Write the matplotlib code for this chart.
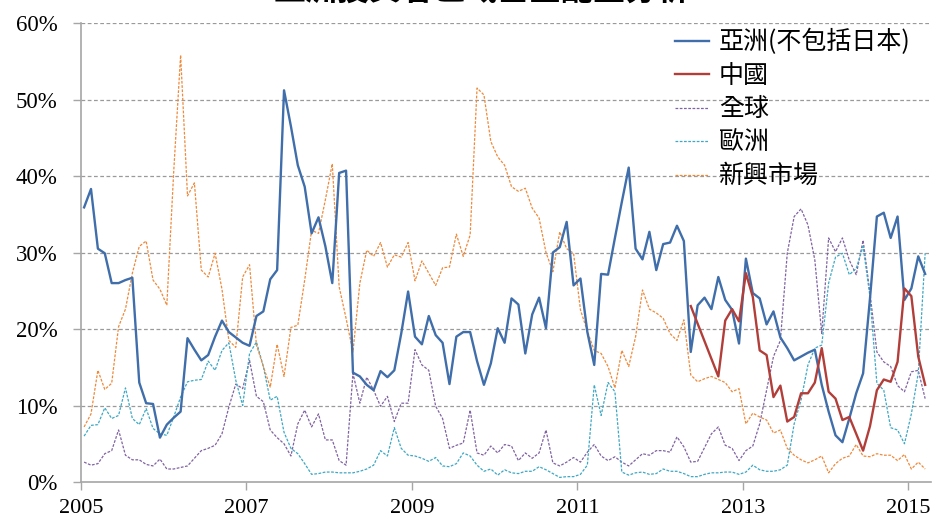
import numpy as np
import matplotlib
matplotlib.use("Agg")
import matplotlib.pyplot as plt

# ── Data (monthly, Jan 2005 – Mar 2015, % share) ─────────────────────────────
asia = [35.9, 38.3, 30.5, 29.9, 26.0, 26.0, 26.4, 26.7, 13.0, 10.3,
        10.2, 5.8, 7.5, 8.4, 9.2, 18.8, 17.3, 15.9, 16.6, 19.0,
        21.1, 19.6, 18.9, 18.2, 17.8, 21.7, 22.3, 26.5, 27.7, 51.2,
        46.5, 41.4, 38.6, 32.5, 34.6, 30.8, 26.0, 40.4, 40.7, 14.3,
        13.8, 12.7, 12.0, 14.5, 13.7, 14.6, 19.4, 24.9, 19.0, 18.0,
        21.7, 19.2, 18.2, 12.8, 19.0, 19.6, 19.6, 15.8, 12.7, 15.5,
        20.1, 18.2, 24.0, 23.2, 16.8, 21.9, 24.1, 20.1, 30.0, 30.7,
        34.0, 25.7, 26.6, 19.6, 15.3, 27.2, 27.1, 31.9, 36.6, 41.1,
        30.5, 29.1, 32.7, 27.7, 31.1, 31.3, 33.5, 31.5, 17.0, 23.1,
        24.1, 22.6, 26.8, 23.8, 22.5, 18.1, 29.2, 24.7, 24.0, 20.6,
        22.3, 18.9, 17.5, 15.9, 16.4, 16.9, 17.3, 12.7, 9.2, 6.1,
        5.2, 8.3, 11.6, 14.2, 24.0, 34.7, 35.2, 31.9, 34.7, 23.8,
        25.3, 29.5, 27.2]

# China only reported from mid-2012 (a few months missing at the start)
china = [None] * 88 + [
        23.0, None, None, None, 13.8, 21.1, 22.6, 21.0, 27.3, 24.2,
        17.2, 16.6, 11.1, 12.6, 7.9, 8.5, 11.6, 11.6, 13.0, 17.5,
        11.8, 10.9, 8.1, 8.5, 6.3, 4.1, 7.3, 12.0, 13.4, 13.1,
        15.7, 25.3, 24.3, 16.4, 12.7]

world = [2.6, 2.2, 2.4, 3.7, 4.1, 6.8, 3.5, 2.9, 2.9, 2.3,
         2.1, 3.0, 1.7, 1.7, 1.9, 2.1, 3.1, 4.1, 4.4, 4.8,
         6.3, 9.8, 12.8, 12.2, 15.9, 11.2, 10.5, 6.8, 5.8, 5.0,
         3.4, 7.6, 9.4, 7.2, 8.9, 5.5, 5.5, 2.8, 2.2, 14.2,
         10.3, 13.7, 12.0, 9.9, 11.2, 7.9, 10.3, 10.3, 17.3, 15.3,
         14.6, 9.9, 8.3, 4.4, 4.8, 5.1, 9.4, 3.8, 3.5, 4.7,
         3.8, 4.9, 4.7, 2.8, 3.8, 3.1, 3.8, 6.8, 2.5, 2.1,
         2.6, 3.2, 2.6, 3.9, 4.9, 3.4, 2.8, 3.3, 2.6, 2.1,
         2.9, 3.7, 3.5, 4.1, 4.1, 3.9, 5.9, 4.6, 2.6, 2.7,
         4.5, 6.3, 7.2, 4.8, 4.4, 2.8, 4.1, 4.7, 7.6, 12.0,
         16.4, 18.5, 29.9, 34.7, 35.7, 33.6, 29.0, 19.4, 31.9, 30.1,
         31.9, 29.0, 27.1, 31.6, 24.7, 17.0, 15.7, 15.1, 12.6, 11.8,
         14.4, 14.6, 10.9]

europe = [6.0, 7.4, 7.5, 9.7, 8.3, 8.7, 12.3, 8.3, 7.5, 9.6,
          7.0, 6.3, 6.1, 8.5, 11.1, 13.1, 13.3, 13.4, 15.8, 14.6,
          17.2, 18.2, 13.3, 10.0, 16.8, 18.3, 15.1, 10.7, 11.2, 6.5,
          4.4, 3.7, 2.4, 1.0, 1.1, 1.3, 1.3, 1.2, 1.2, 1.2,
          1.4, 1.7, 2.2, 4.1, 3.4, 7.1, 4.4, 3.5, 3.4, 3.1,
          2.7, 3.2, 2.1, 2.0, 2.4, 3.8, 3.4, 2.2, 1.4, 1.7,
          0.9, 1.6, 1.2, 1.1, 1.4, 1.4, 2.0, 1.6, 1.1, 0.6,
          0.7, 0.7, 1.0, 2.2, 12.7, 8.7, 13.0, 11.8, 1.3, 0.9,
          1.2, 1.3, 1.0, 1.1, 1.7, 1.4, 1.4, 1.1, 0.7, 0.7,
          1.0, 1.2, 1.2, 1.3, 1.3, 1.0, 1.3, 2.2, 1.6, 1.4,
          1.4, 1.6, 2.2, 7.6, 10.7, 15.3, 17.5, 17.9, 26.0, 29.4,
          29.9, 27.1, 27.9, 30.8, 24.2, 12.9, 12.0, 7.1, 6.8, 5.0,
          8.9, 14.2, 29.9]

emerging = [7.2, 8.9, 14.6, 12.1, 12.9, 20.3, 22.6, 27.3, 30.8, 31.5,
            26.4, 25.2, 23.1, 40.6, 55.8, 37.4, 39.1, 27.7, 26.8, 29.9,
            25.2, 18.5, 17.6, 26.8, 28.4, 17.9, 15.1, 12.4, 18.0, 13.8,
            20.2, 20.5, 26.4, 32.9, 32.5, 36.9, 41.6, 25.5, 21.4, 17.0,
            26.0, 30.3, 29.5, 31.3, 28.1, 29.7, 29.4, 31.3, 26.3, 28.9,
            27.3, 25.7, 28.0, 28.1, 32.4, 29.5, 32.3, 51.5, 50.6, 44.5,
            42.5, 41.4, 38.6, 38.0, 38.4, 35.8, 34.5, 30.0, 27.5, 32.7,
            30.5, 29.9, 22.5, 19.7, 17.2, 16.8, 15.1, 12.3, 17.2, 15.1,
            19.0, 25.1, 22.6, 22.1, 21.4, 19.4, 18.5, 21.2, 14.0, 13.1,
            13.5, 13.8, 13.4, 13.0, 11.8, 12.2, 7.6, 9.0, 8.5, 8.1,
            6.4, 6.8, 4.4, 3.5, 2.9, 2.5, 2.9, 3.4, 1.2, 2.4,
            3.1, 3.4, 4.9, 3.4, 3.3, 3.7, 3.5, 3.5, 2.8, 3.6,
            1.7, 2.6, 1.7]

labels = ["亞洲(不包括日本)", "中國", "全球", "歐洲", "新興市場"]
year_ticks = [2005, 2007, 2009, 2011, 2013, 2015]
title = "亞洲投資者區域基金配置分析"

# ── Styling ──────────────────────────────────────────────────────────────────
CJK = ["Noto Sans CJK TC", "DejaVu Sans"]
SERIF = "Liberation Serif"
colors = ["#3F6EAA", "#B23E3A", "#8064A2", "#3FA8C4", "#EE8A3C"]

n = len(asia)
x = 2005 + (np.arange(n) + 0.45) / 12.0

fig = plt.figure(figsize=(9.41, 5.20), dpi=100)
ax = fig.add_axes([81 / 941, 1 - 482 / 520, (931 - 81) / 941, (482 - 23) / 520])

dot = (0, (2.2, 1.2))
ax.plot(x, asia, color=colors[0], lw=1.7, label=labels[0], zorder=5)

china_arr = np.array([np.nan if v is None else v for v in china], dtype=float)
ok = ~np.isnan(china_arr)
ax.plot(x[ok], china_arr[ok], color=colors[1], lw=1.7, label=labels[1], zorder=6)

ax.plot(x, world, color=colors[2], lw=0.9, ls=dot, label=labels[2], zorder=3)
ax.plot(x, europe, color=colors[3], lw=0.9, ls=dot, label=labels[3], zorder=3)
ax.plot(x, emerging, color=colors[4], lw=0.9, ls=dot, label=labels[4], zorder=3)

# ── Axes ─────────────────────────────────────────────────────────────────────
ax.set_xlim(2005, 2005 + 123.3 / 12)
ax.set_ylim(0, 60)
ax.set_yticks(range(0, 61, 10))
ax.set_yticklabels([f"{v}%" for v in range(0, 61, 10)], fontfamily=SERIF, fontsize=16.5)
ax.set_xticks(year_ticks)
ax.set_xticklabels([str(y) for y in year_ticks], fontfamily=SERIF, fontsize=16)

for s in ["top", "right"]:
    ax.spines[s].set_visible(False)
for s in ["left", "bottom"]:
    ax.spines[s].set_color("#A6A6A6")
    ax.spines[s].set_linewidth(1.2)

ax.tick_params(axis="y", length=6, width=1.0, color="#A6A6A6", pad=11)
ax.tick_params(axis="x", length=6, width=1.0, color="#A6A6A6", pad=6)

for v in range(10, 61, 10):
    ax.axhline(v, color="#9A9A9A", lw=0.9, ls=(0, (3, 2)), zorder=1)

leg = ax.legend(loc="upper left", bbox_to_anchor=(675 / 941, 1 - 29 / 520),
                bbox_transform=fig.transFigure, frameon=False,
                prop={"family": CJK, "size": 18}, handlelength=1.35,
                handletextpad=0.4, labelspacing=0.3, borderpad=0, borderaxespad=0)

# title is partly cut off at the top of the picture
fig.text(0.512, 1 - 7 / 520, title, ha="center", va="bottom",
         fontsize=23, fontweight="bold", family=CJK)

fig.savefig("out.png", dpi=100)
